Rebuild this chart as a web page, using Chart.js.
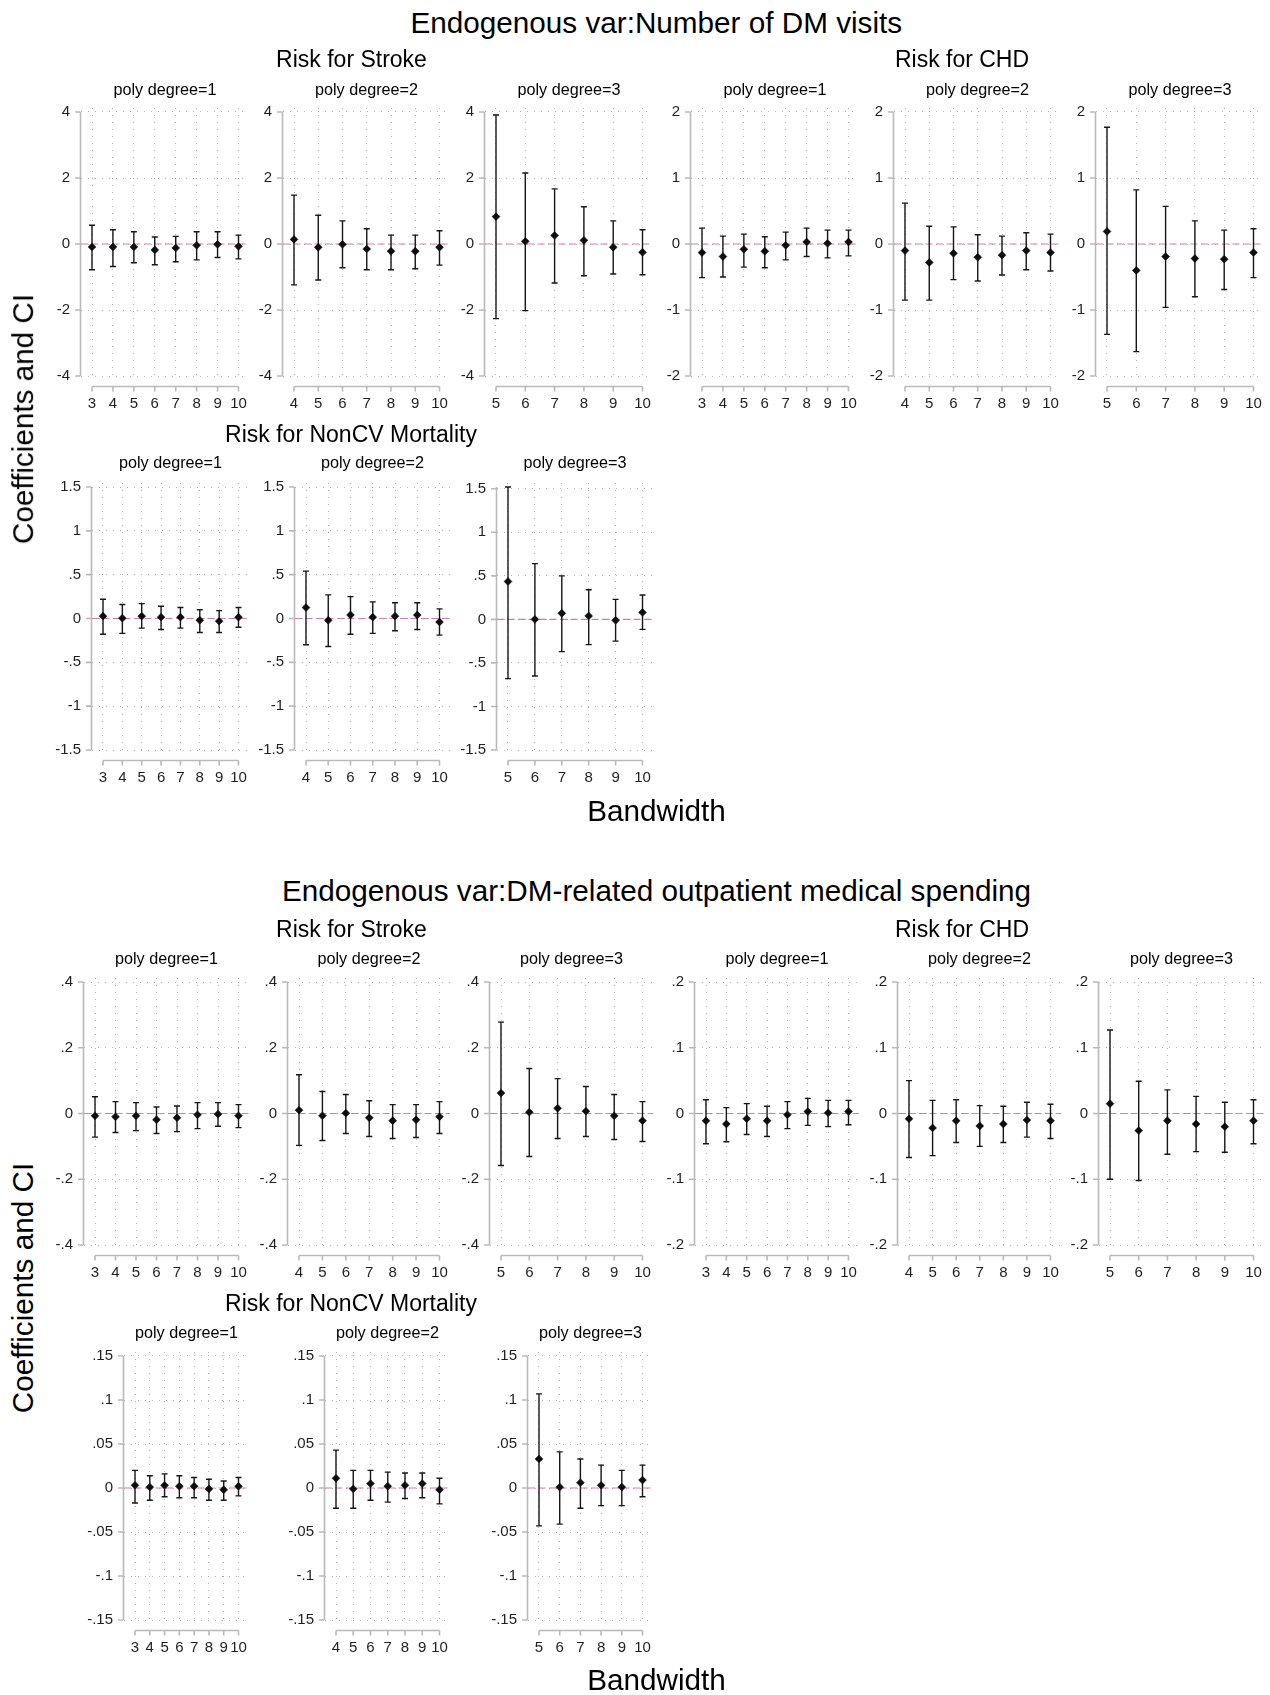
<!DOCTYPE html>
<html>
<head>
<meta charset="utf-8">
<script src="https://cdn.jsdelivr.net/npm/chart.js@4.4.1/dist/chart.umd.min.js"></script>
<style>
  html, body { margin: 0; padding: 0; background: #fff; }
  #page { position: relative; width: 1270px; height: 1695px; overflow: hidden;
          font-family: "Liberation Sans", Arial, sans-serif; background: #fff; }
  .t { position: absolute; white-space: nowrap; line-height: 1; color: #000;
       transform: translate(-50%, -50%); }
  .rot { transform: translate(-50%, -50%) rotate(-90deg); }
  canvas { position: absolute; }
</style>
</head>
<body>
<div id="page"></div>
<script>
// ---- bandwidths by polynomial degree ----
const bwDeg1 = [3, 4, 5, 6, 7, 8, 9, 10];
const bwDeg2 = [4, 5, 6, 7, 8, 9, 10];
const bwDeg3 = [5, 6, 7, 8, 9, 10];

// ---- y tick values ----
const ticksVisStroke = [-4, -2, 0, 2, 4];
const ticksVisChd = [-2, -1, 0, 1, 2];
const ticksVisNcv = [-1.5, -1, -0.5, 0, 0.5, 1, 1.5];
const ticksSpStroke = [-0.4, -0.2, 0, 0.2, 0.4];
const ticksSpChd = [-0.2, -0.1, 0, 0.1, 0.2];
const ticksSpNcv = [-0.15, -0.1, -0.05, 0, 0.05, 0.1, 0.15];

// ---- endogenous var: number of DM visits ----
const visStroke1Coef = [-0.09, -0.09, -0.09, -0.18, -0.12, -0.04, -0.01, -0.07];
const visStroke1Lo   = [-0.78, -0.68, -0.57, -0.63, -0.54, -0.48, -0.41, -0.45];
const visStroke1Hi   = [0.57, 0.43, 0.37, 0.21, 0.23, 0.37, 0.37, 0.27];
const visStroke2Coef = [0.14, -0.10, -0.01, -0.15, -0.22, -0.22, -0.10];
const visStroke2Lo   = [-1.24, -1.09, -0.72, -0.78, -0.78, -0.75, -0.64];
const visStroke2Hi   = [1.48, 0.87, 0.70, 0.46, 0.27, 0.27, 0.40];
const visStroke3Coef = [0.83, 0.08, 0.26, 0.11, -0.10, -0.25];
const visStroke3Lo   = [-2.26, -2.02, -1.18, -0.96, -0.91, -0.93];
const visStroke3Hi   = [3.91, 2.15, 1.67, 1.13, 0.70, 0.43];

const visChd1Coef = [-0.13, -0.19, -0.08, -0.11, -0.02, 0.03, 0.01, 0.03];
const visChd1Lo   = [-0.51, -0.50, -0.35, -0.36, -0.24, -0.19, -0.21, -0.18];
const visChd1Hi   = [0.24, 0.12, 0.15, 0.11, 0.18, 0.24, 0.21, 0.21];
const visChd2Coef = [-0.10, -0.28, -0.14, -0.20, -0.17, -0.10, -0.13];
const visChd2Lo   = [-0.85, -0.85, -0.54, -0.56, -0.47, -0.39, -0.41];
const visChd2Hi   = [0.62, 0.27, 0.26, 0.14, 0.12, 0.17, 0.15];
const visChd3Coef = [0.19, -0.40, -0.19, -0.22, -0.23, -0.13];
const visChd3Lo   = [-1.37, -1.63, -0.96, -0.80, -0.69, -0.51];
const visChd3Hi   = [1.77, 0.82, 0.57, 0.35, 0.21, 0.23];

const visNcv1Coef = [0.027, 0.004, 0.027, 0.015, 0.015, -0.02, -0.03, 0.015];
const visNcv1Lo   = [-0.18, -0.17, -0.11, -0.125, -0.11, -0.16, -0.16, -0.10];
const visNcv1Hi   = [0.22, 0.16, 0.17, 0.14, 0.125, 0.10, 0.09, 0.125];
const visNcv2Coef = [0.125, -0.02, 0.04, 0.015, 0.027, 0.04, -0.04];
const visNcv2Lo   = [-0.30, -0.32, -0.18, -0.17, -0.14, -0.125, -0.19];
const visNcv2Hi   = [0.54, 0.27, 0.25, 0.19, 0.18, 0.18, 0.11];
const visNcv3Coef = [0.435, 0.0, 0.07, 0.04, -0.01, 0.08];
const visNcv3Lo   = [-0.68, -0.65, -0.37, -0.29, -0.25, -0.115];
const visNcv3Hi   = [1.52, 0.64, 0.50, 0.34, 0.23, 0.28];

// ---- endogenous var: DM-related outpatient medical spending ----
const spStroke1Coef = [-0.007, -0.010, -0.007, -0.019, -0.013, -0.004, -0.002, -0.007];
const spStroke1Lo   = [-0.072, -0.058, -0.052, -0.061, -0.055, -0.046, -0.039, -0.043];
const spStroke1Hi   = [0.051, 0.036, 0.033, 0.020, 0.023, 0.033, 0.033, 0.027];
const spStroke2Coef = [0.010, -0.007, 0.001, -0.013, -0.022, -0.019, -0.010];
const spStroke2Lo   = [-0.097, -0.082, -0.061, -0.070, -0.076, -0.073, -0.061];
const spStroke2Hi   = [0.118, 0.067, 0.058, 0.039, 0.027, 0.027, 0.036];
const spStroke3Coef = [0.062, 0.004, 0.016, 0.007, -0.007, -0.022];
const spStroke3Lo   = [-0.158, -0.131, -0.076, -0.070, -0.079, -0.085];
const spStroke3Hi   = [0.278, 0.137, 0.106, 0.082, 0.058, 0.036];

const spChd1Coef = [-0.011, -0.016, -0.008, -0.011, -0.002, 0.003, 0.001, 0.003];
const spChd1Lo   = [-0.046, -0.043, -0.032, -0.035, -0.023, -0.018, -0.020, -0.017];
const spChd1Hi   = [0.021, 0.009, 0.015, 0.011, 0.018, 0.023, 0.020, 0.020];
const spChd2Coef = [-0.008, -0.022, -0.011, -0.019, -0.016, -0.010, -0.011];
const spChd2Lo   = [-0.067, -0.064, -0.044, -0.050, -0.044, -0.036, -0.038];
const spChd2Hi   = [0.050, 0.020, 0.021, 0.012, 0.011, 0.017, 0.014];
const spChd3Coef = [0.015, -0.026, -0.011, -0.016, -0.020, -0.011];
const spChd3Lo   = [-0.100, -0.102, -0.062, -0.058, -0.059, -0.046];
const spChd3Hi   = [0.127, 0.049, 0.036, 0.026, 0.017, 0.021];

const spNcv1Coef = [0.003, 0.001, 0.003, 0.002, 0.002, -0.001, -0.002, 0.002];
const spNcv1Lo   = [-0.017, -0.014, -0.010, -0.011, -0.011, -0.014, -0.014, -0.009];
const spNcv1Hi   = [0.020, 0.014, 0.016, 0.014, 0.012, 0.010, 0.008, 0.012];
const spNcv2Coef = [0.011, -0.001, 0.005, 0.002, 0.003, 0.005, -0.002];
const spNcv2Lo   = [-0.023, -0.023, -0.014, -0.016, -0.012, -0.011, -0.018];
const spNcv2Hi   = [0.043, 0.020, 0.020, 0.018, 0.017, 0.017, 0.011];
const spNcv3Coef = [0.033, 0.001, 0.006, 0.003, 0.001, 0.009];
const spNcv3Lo   = [-0.043, -0.041, -0.023, -0.020, -0.020, -0.010];
const spNcv3Hi   = [0.107, 0.041, 0.033, 0.026, 0.020, 0.026];

// ---- styling ----
const FONT = '"Liberation Sans", Arial, sans-serif';
const TICK_COLOR = '#1e1e1e';
const GRID_COLOR = '#b0b0b0';
const AXIS_COLOR = '#b9b9b9';
const ZERO_COLOR = '#d77aa8';
const BAR_COLOR = '#161616';
const YW = 44;         // width of y label gutter
const PAD_T = 24;      // canvas space above plot area
const PAD_R = 18;      // canvas space right of plot area
const XH = 46;         // x label band height
const EDGE_X = 10.5;   // plot margin left/right of the outer bandwidths
const EDGE_Y = 4;      // plot margin above/below the y axis range

// vertical extent (page px) of the y axis range in each row
const rowVisTop = { top: 112.3, bot: 376.3 };
const rowVisNcv = { top: 486.7, bot: 750 };
const rowSpTop  = { top: 981.7, bot: 1245 };
const rowSpNcv  = { top: 1356,  bot: 1620 };

const panels = [
  { deg: 1, bw: bwDeg1, coef: visStroke1Coef, lo: visStroke1Lo, hi: visStroke1Hi, ticks: ticksVisStroke, row: rowVisTop, ax: 80.7,  right: 238.2 },
  { deg: 2, bw: bwDeg2, coef: visStroke2Coef, lo: visStroke2Lo, hi: visStroke2Hi, ticks: ticksVisStroke, row: rowVisTop, ax: 282.8, right: 439.8 },
  { deg: 3, bw: bwDeg3, coef: visStroke3Coef, lo: visStroke3Lo, hi: visStroke3Hi, ticks: ticksVisStroke, row: rowVisTop, ax: 485.3, right: 642.6 },
  { deg: 1, bw: bwDeg1, coef: visChd1Coef, lo: visChd1Lo, hi: visChd1Hi, ticks: ticksVisChd, row: rowVisTop, ax: 691,   right: 848.5 },
  { deg: 2, bw: bwDeg2, coef: visChd2Coef, lo: visChd2Lo, hi: visChd2Hi, ticks: ticksVisChd, row: rowVisTop, ax: 894.3, right: 1050.2 },
  { deg: 3, bw: bwDeg3, coef: visChd3Coef, lo: visChd3Lo, hi: visChd3Hi, ticks: ticksVisChd, row: rowVisTop, ax: 1096,  right: 1253.5 },
  { deg: 1, bw: bwDeg1, coef: visNcv1Coef, lo: visNcv1Lo, hi: visNcv1Hi, ticks: ticksVisNcv, row: rowVisNcv, ax: 92.4,  right: 238.2 },
  { deg: 2, bw: bwDeg2, coef: visNcv2Coef, lo: visNcv2Lo, hi: visNcv2Hi, ticks: ticksVisNcv, row: rowVisNcv, ax: 294.6, right: 439.8 },
  { deg: 3, bw: bwDeg3, coef: visNcv3Coef, lo: visNcv3Lo, hi: visNcv3Hi, ticks: ticksVisNcv, row: rowVisNcv, ax: 497,   right: 642.6 },

  { deg: 1, bw: bwDeg1, coef: spStroke1Coef, lo: spStroke1Lo, hi: spStroke1Hi, ticks: ticksSpStroke, row: rowSpTop, ax: 84.2,  right: 238.2 },
  { deg: 2, bw: bwDeg2, coef: spStroke2Coef, lo: spStroke2Lo, hi: spStroke2Hi, ticks: ticksSpStroke, row: rowSpTop, ax: 287.9, right: 439.8 },
  { deg: 3, bw: bwDeg3, coef: spStroke3Coef, lo: spStroke3Lo, hi: spStroke3Hi, ticks: ticksSpStroke, row: rowSpTop, ax: 489.5, right: 642.6 },
  { deg: 1, bw: bwDeg1, coef: spChd1Coef, lo: spChd1Lo, hi: spChd1Hi, ticks: ticksSpChd, row: rowSpTop, ax: 695,    right: 848.5 },
  { deg: 2, bw: bwDeg2, coef: spChd2Coef, lo: spChd2Lo, hi: spChd2Hi, ticks: ticksSpChd, row: rowSpTop, ax: 898,    right: 1050.2 },
  { deg: 3, bw: bwDeg3, coef: spChd3Coef, lo: spChd3Lo, hi: spChd3Hi, ticks: ticksSpChd, row: rowSpTop, ax: 1099.2, right: 1253.5 },
  { deg: 1, bw: bwDeg1, coef: spNcv1Coef, lo: spNcv1Lo, hi: spNcv1Hi, ticks: ticksSpNcv, row: rowSpNcv, ax: 123.7, right: 238.2 },
  { deg: 2, bw: bwDeg2, coef: spNcv2Coef, lo: spNcv2Lo, hi: spNcv2Hi, ticks: ticksSpNcv, row: rowSpNcv, ax: 325,   right: 439.8 },
  { deg: 3, bw: bwDeg3, coef: spNcv3Coef, lo: spNcv3Lo, hi: spNcv3Hi, ticks: ticksSpNcv, row: rowSpNcv, ax: 528,   right: 642.6 }
];

// headings: [text, centre x, centre y, font size, rotated]
const headings = [
  ['Endogenous var:Number of DM visits', 656.3, 22.5, 29.7, false],
  ['Risk for Stroke', 351.5, 59.2, 23, false],
  ['Risk for CHD', 962, 59.2, 23, false],
  ['Risk for NonCV Mortality', 351, 433.7, 23, false],
  ['Bandwidth', 656.5, 810.7, 29.7, false],
  ['Coefficients and CI', 22.5, 419, 29.7, true],
  ['Endogenous var:DM-related outpatient medical spending', 656.5, 891.2, 29.7, false],
  ['Risk for Stroke', 351.5, 928.6, 23, false],
  ['Risk for CHD', 962, 928.6, 23, false],
  ['Risk for NonCV Mortality', 351, 1303.2, 23, false],
  ['Bandwidth', 656.5, 1679.7, 29.7, false],
  ['Coefficients and CI', 22.5, 1288.3, 29.7, true]
];
// vertical centre of the "poly degree" captions for each row
const captionY = new Map([[rowVisTop, 89], [rowVisNcv, 462.2], [rowSpTop, 958], [rowSpNcv, 1332]]);

const page = document.getElementById('page');

function addText(text, cx, cy, size, rotated) {
  const d = document.createElement('div');
  d.className = rotated ? 't rot' : 't';
  d.textContent = text;
  d.style.left = cx + 'px';
  d.style.top = cy + 'px';
  d.style.fontSize = size + 'px';
  page.appendChild(d);
}

// Stata-style numeric labels: drop the leading zero ( .5, -.15 )
function stataLabel(v) {
  const s = String(Number(Number(v).toFixed(4)));
  return s.replace(/^(-?)0\./, '$1.');
}

// zero reference line, CI caps and the offset axis lines
const panelDecor = {
  id: 'panelDecor',
  beforeDatasetsDraw(chart, args, o) {
    const { ctx, chartArea: a, scales: { x, y } } = chart;
    ctx.save();
    // dashed zero line
    const py0 = y.getPixelForValue(0);
    ctx.strokeStyle = ZERO_COLOR;
    ctx.lineWidth = 1.2;
    ctx.setLineDash([7, 3.5]);
    ctx.beginPath();
    ctx.moveTo(a.left, py0);
    ctx.lineTo(a.right, py0);
    ctx.stroke();
    // confidence intervals with caps
    ctx.setLineDash([]);
    ctx.strokeStyle = BAR_COLOR;
    ctx.lineWidth = 1.4;
    chart.data.datasets.forEach(ds => {
      ds.data.forEach((pt, i) => {
        const px = x.getPixelForValue(pt.x);
        const pLo = y.getPixelForValue(ds.lo[i]);
        const pHi = y.getPixelForValue(ds.hi[i]);
        ctx.beginPath();
        ctx.moveTo(px, pLo); ctx.lineTo(px, pHi);
        ctx.moveTo(px - 3, pLo); ctx.lineTo(px + 3, pLo);
        ctx.moveTo(px - 3, pHi); ctx.lineTo(px + 3, pHi);
        ctx.stroke();
      });
    });
    ctx.restore();
  },
  afterDraw(chart, args, o) {
    const { ctx, chartArea: a, scales: { x, y } } = chart;
    ctx.save();
    ctx.strokeStyle = AXIS_COLOR;
    ctx.lineWidth = 1.6;
    ctx.setLineDash([]);
    ctx.beginPath();
    // y axis spans the axis range only
    const ax = a.left - 0.5;
    ctx.moveTo(ax, y.getPixelForValue(o.yHi));
    ctx.lineTo(ax, y.getPixelForValue(o.yLo));
    o.yTicks.forEach(v => {
      const py = y.getPixelForValue(v);
      ctx.moveTo(ax - 5.5, py); ctx.lineTo(ax, py);
    });
    // x axis sits below the plot region, from first to last bandwidth
    const xy = a.bottom + 6.5;
    ctx.moveTo(x.getPixelForValue(o.xTicks[0]), xy);
    ctx.lineTo(x.getPixelForValue(o.xTicks[o.xTicks.length - 1]), xy);
    o.xTicks.forEach(v => {
      const px = x.getPixelForValue(v);
      ctx.moveTo(px, xy); ctx.lineTo(px, xy + 5);
    });
    ctx.stroke();
    ctx.restore();
  }
};

function buildPanel(p) {
  const first = p.bw[0], last = p.bw[p.bw.length - 1];
  const chartL = Math.round(p.ax);
  const chartR = Math.round(p.right + EDGE_X);
  const chartT = Math.round(p.row.top - EDGE_Y);
  const chartB = Math.round(p.row.bot + EDGE_Y);

  // x range: first bandwidth sits 11px right of the y axis, last one EDGE_X from the edge
  const firstPx = chartL + 11, lastPx = chartR - EDGE_X;
  const xppu = (lastPx - firstPx) / (last - first);
  const xMin = first - (firstPx - chartL) / xppu;
  const xMax = last + (chartR - lastPx) / xppu;

  // y axis range covers the ticks and every interval
  const yHi = Math.max(Math.max(...p.ticks), Math.max(...p.hi));
  const yLo = Math.min(Math.min(...p.ticks), Math.min(...p.lo));
  const yppu = (chartB - chartT - 2 * EDGE_Y) / (yHi - yLo);
  const yMax = yHi + EDGE_Y / yppu;
  const yMin = yLo - EDGE_Y / yppu;

  const left = chartL - YW, top = chartT - PAD_T;
  const width = (chartR - chartL) + YW + PAD_R;
  const height = (chartB - chartT) + PAD_T + XH;

  const cv = document.createElement('canvas');
  cv.width = width; cv.height = height;
  cv.style.left = left + 'px'; cv.style.top = top + 'px';
  cv.style.width = width + 'px'; cv.style.height = height + 'px';
  page.appendChild(cv);

  const tickFont = { family: FONT, size: 15 };
  new Chart(cv, {
    type: 'scatter',
    data: {
      datasets: [{
        data: p.bw.map((b, i) => ({ x: b, y: p.coef[i] })),
        lo: p.lo,
        hi: p.hi,
        pointStyle: 'rectRot',
        pointRadius: 3.9,
        pointHoverRadius: 3.9,
        backgroundColor: '#0d0d0d',
        borderColor: '#0d0d0d',
        borderWidth: 0.6
      }]
    },
    options: {
      responsive: false,
      animation: false,
      devicePixelRatio: 1,
      events: [],
      layout: { padding: { left: 0, top: PAD_T, right: PAD_R, bottom: 0 } },
      plugins: {
        legend: { display: false },
        tooltip: { enabled: false },
        title: { display: false },
        panelDecor: { yHi, yLo, yTicks: p.ticks, xTicks: p.bw }
      },
      scales: {
        x: {
          type: 'linear', position: 'bottom', bounds: 'data',
          min: xMin, max: xMax,
          afterBuildTicks: s => { s.ticks = p.bw.map(v => ({ value: v })); },
          afterFit: s => { s.height = XH; },
          grid: { color: GRID_COLOR, lineWidth: 1, drawTicks: false },
          border: { display: false, dash: [1, 6] },
          ticks: { padding: 15, color: TICK_COLOR, font: tickFont, autoSkip: false,
                   maxRotation: 0, minRotation: 0, callback: v => String(v) }
        },
        y: {
          type: 'linear', position: 'left', bounds: 'data',
          min: yMin, max: yMax,
          afterBuildTicks: s => { s.ticks = p.ticks.map(v => ({ value: v })); },
          afterFit: s => { s.width = YW; },
          grid: { color: GRID_COLOR, lineWidth: 1, drawTicks: false },
          border: { display: false, dash: [1, 6] },
          ticks: { padding: 11, color: TICK_COLOR, font: tickFont, autoSkip: false,
                   callback: v => stataLabel(v) }
        }
      }
    },
    plugins: [panelDecor]
  });

  // caption centred over the plot region
  addText('poly degree=' + p.deg, (chartL + chartR) / 2, captionY.get(p.row), 16.2, false);
}

panels.forEach(buildPanel);
headings.forEach(h => addText(h[0], h[1], h[2], h[3], h[4]));
</script>
</body>
</html>
